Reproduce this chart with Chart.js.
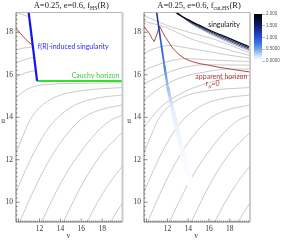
<!DOCTYPE html>
<html>
<head>
<meta charset="utf-8">
<script src="https://cdn.jsdelivr.net/npm/chart.js@4"></script>
<style>
  html, body { margin: 0; padding: 0; background: #fff; }
  #wrap { position: relative; width: 282px; height: 241px; overflow: hidden; }
  canvas { position: absolute; top: 0; }
</style>
</head>
<body>
<div id="wrap">
  <canvas id="left" width="124" height="241" style="left:0"></canvas>
  <canvas id="right" width="130" height="241" style="left:122px"></canvas>
  <canvas id="cbar" width="32" height="241" style="left:250px"></canvas>
</div>
<script>
// ticks
const vTicks = [12, 14, 16, 18];
const uTicks = [10, 12, 14, 16, 18];
const cbTicks = [0, 0.5, 1, 1.5, 2];
const cbLabels = ['0.0000', '0.5000', '1.000', '1.500', '2.000'];

// left panel: f_HS(R)  -- points are [v, u]
const singLeft = [[10.92, 19.1], [11.77, 15.71]];
const cauchyLeft = [[11.77, 15.71], [19.95, 15.71]];
const horizonLeft = [[9.75, 18.19], [10.13, 17.97], [10.52, 17.75], [10.9, 17.57], [11.3, 17.4]];
const upperLeftA = [[9.75, 18.92], [10.4, 18.83], [11.01, 18.72]];
const upperLeftB = [[9.75, 17.17], [10.5, 17.26], [11.37, 17.3]];
const upperLeftC = [[9.75, 16.55], [10.6, 16.72], [11.49, 16.83]];
const upperLeftD = [[9.75, 15.9], [10.7, 16.1], [11.65, 16.2]];
const nearCauchy = [[9.75, 14.91], [10.5, 15.22], [11.5, 15.45], [13, 15.55], [16, 15.6], [19.95, 15.62]];

// r = const lines in the lower region (both panels)
const lowA = [[9.75, 12.32], [10.4, 13.1], [11.1, 13.87], [12, 14.45], [13.5, 14.95], [16, 15.25], [19.95, 15.4]];
const lowB = [[9.75, 10.48], [10.7, 11.55], [11.7, 12.55], [12.8, 13.45], [14, 14.1], [15.5, 14.6], [17.5, 14.9], [19.95, 15.05]];
const lowC = [[10.1, 9.07], [11.2, 10.3], [12.5, 11.6], [14, 12.8], [15.9, 13.87], [17.5, 14.3], [19.95, 14.58]];
const lowD = [[12.2, 9.07], [13.3, 10.2], [14.5, 11.3], [16, 12.4], [17.5, 13.3], [18.8, 13.85], [19.95, 14.1]];
const lowE = [[14.3, 9.07], [15.3, 10.1], [16.5, 11.2], [18, 12.3], [19.95, 13.3]];
const lowF = [[16.55, 9.07], [17.5, 9.95], [18.7, 10.9], [19.95, 11.7]];
const lowG = [[18.8, 9.07], [19.4, 9.55], [19.95, 9.97]];

// right panel: f_cut,HS(R)
const blueRight = [[10.92, 19.1], [11.15, 18.3], [11.39, 17.49], [11.7, 16.46], [12.03, 15.44], [12.51, 14.34], [13.4, 12.46], [14.27, 10.72]];
const blueRightVal = [1.55, 1.25, 0.95, 0.7, 0.38, 0.14, 0.05, 0.012];
const blueRightWidth = [1.4, 1.5, 1.7, 2, 2.6, 3.6, 5.5, 7.5];
const horizonRight = [[9.75, 18.27], [10.23, 17.97], [10.52, 17.71], [10.74, 17.56], [11.0, 17.92], [11.24, 18.29],
  [11.58, 17.97], [11.82, 17.75], [12.06, 17.59], [12.35, 17.36], [12.66, 17.17], [13.12, 16.95], [13.63, 16.77],
  [14.37, 16.62], [15.13, 16.52], [15.88, 16.46], [16.87, 16.36], [18.02, 16.27], [19.95, 16.13]];
const singR1 = [[12.5, 19.1], [12.83, 18.93], [14.17, 18.55], [15.62, 18.2], [17.25, 17.85], [18.79, 17.54], [19.95, 17.3]];
const singR2 = [[12.6, 19.1], [12.9, 18.93], [14.17, 18.51], [15.62, 18.15], [17.25, 17.79], [18.79, 17.47], [19.95, 17.24]];
const singR3 = [[12.7, 19.1], [12.97, 18.93], [14.17, 18.48], [15.62, 18.1], [17.25, 17.73], [18.79, 17.41], [19.95, 17.18]];
const singR4 = [[12.8, 19.1], [13.05, 18.93], [14.17, 18.45], [15.62, 18.05], [17.25, 17.67], [18.79, 17.35], [19.95, 17.12]];
const trapA = [[9.75, 18.77], [10.52, 18.62], [11.29, 18.46], [12.25, 18.27], [14.17, 17.99], [16.58, 17.66], [19.95, 17.02]];
const trapB = [[9.75, 18.53], [10.52, 18.41], [11.38, 18.32], [12.73, 18.04], [14.17, 17.71], [16.58, 17.35], [19.95, 16.9]];
const peakA = [[9.75, 17.02], [10.81, 17.24], [11.58, 17.34], [12.25, 17.38], [13.69, 17.28], [15.62, 17.12], [17.83, 16.93], [19.95, 16.78]];
const peakB = [[9.75, 16.22], [11.29, 16.51], [12.44, 16.67], [13.69, 16.76], [15.62, 16.71], [17.83, 16.66], [19.95, 16.62]];
const peakC = [[9.75, 15.57], [11.29, 15.94], [13.21, 16.3], [15.62, 16.47], [17.83, 16.46], [19.95, 16.45]];
const peakD = [[9.75, 14.81], [11.29, 15.38], [13.21, 15.85], [15.62, 16.13], [18.02, 16.27], [19.95, 16.27]];
const peakE = [[9.75, 13.54], [11.29, 14.44], [13.21, 15.09], [15.62, 15.57], [18.02, 15.85], [19.95, 15.97]];

const V_MIN = 9.75, V_MAX = 19.95, U_MIN = 9.07, U_MAX = 18.93;
const GRAY = '#c4c4c4';
const RED = '#b04848';

// colour map of the colour bar (white -> blue -> black)
const cmapStops = [
  [0, [255, 255, 255]], [0.2, [216, 230, 250]], [0.45, [127, 176, 238]], [0.75, [58, 120, 224]],
  [1.05, [31, 79, 208]], [1.4, [21, 37, 138]], [1.7, [11, 16, 64]], [2, [0, 0, 0]]
];
function cmap(t) {
  t = Math.max(0, Math.min(2, t));
  for (let i = 1; i < cmapStops.length; i++) {
    const [t1, c1] = cmapStops[i];
    if (t <= t1) {
      const [t0, c0] = cmapStops[i - 1];
      const f = (t - t0) / (t1 - t0);
      return 'rgb(' + c0.map((c, k) => Math.round(c + (c1[k] - c) * f)).join(',') + ')';
    }
  }
  return '#000';
}

function line(pts, color, width, extra) {
  return Object.assign({
    data: pts.map(([v, u]) => ({ x: v, y: u })),
    borderColor: color, borderWidth: width,
    showLine: true, pointRadius: 0, fill: false,
    cubicInterpolationMode: 'monotone'
  }, extra || {});
}

// text with optional subscripts: parts are strings or {sub: '...'}
function drawRich(ctx, parts, x, y, o) {
  const big = o.size + 'px ' + o.family;
  const small = (o.size * 0.68) + 'px ' + o.family;
  let w = 0;
  parts.forEach(p => {
    ctx.font = typeof p === 'string' ? big : small;
    w += ctx.measureText(typeof p === 'string' ? p : p.sub).width;
  });
  let cx = o.align === 'center' ? x - w / 2 : o.align === 'right' ? x - w : x;
  ctx.fillStyle = o.color;
  ctx.textAlign = 'left';
  ctx.textBaseline = 'middle';
  parts.forEach(p => {
    const plain = typeof p === 'string';
    const t = plain ? p : p.sub;
    ctx.font = plain ? big : small;
    ctx.fillText(t, cx, plain ? y : y + o.size * 0.32);
    cx += ctx.measureText(t).width;
  });
}

function makeFrame(cfg) {
  return {
    id: 'frame',
    afterDatasetsDraw(chart) {
      const { ctx, chartArea: a, scales: { x, y } } = chart;
      ctx.save();
      cfg.labels.forEach(l => drawRich(ctx, l.parts, x.getPixelForValue(l.at[0]), y.getPixelForValue(l.at[1]), l));

      // frame
      ctx.lineWidth = 0.8;
      ctx.strokeStyle = '#a8a8a8';
      ctx.beginPath(); ctx.moveTo(a.left, a.top); ctx.lineTo(a.right, a.top); ctx.stroke();
      ctx.strokeStyle = '#555';
      ctx.beginPath(); ctx.moveTo(a.left, a.top); ctx.lineTo(a.left, a.bottom); ctx.lineTo(a.right, a.bottom); ctx.stroke();
      ctx.strokeStyle = '#cacaca'; ctx.lineWidth = 2;
      ctx.beginPath(); ctx.moveTo(a.right, a.top); ctx.lineTo(a.right, a.bottom); ctx.stroke();

      // inward ticks, minor every 0.2
      ctx.strokeStyle = '#555'; ctx.lineWidth = 0.7;
      ctx.beginPath();
      for (let k = Math.ceil(x.min * 5); k <= Math.floor(x.max * 5); k++) {
        const px = x.getPixelForValue(k / 5), len = k % 10 === 0 ? 3.5 : 1.5;
        ctx.moveTo(px, a.bottom); ctx.lineTo(px, a.bottom - len);
      }
      for (let k = Math.ceil(y.min * 5); k <= Math.floor(y.max * 5); k++) {
        const py = y.getPixelForValue(k / 5), len = k % 10 === 0 ? 3.5 : 1.5;
        ctx.moveTo(a.left, py); ctx.lineTo(a.left + len, py);
      }
      ctx.stroke();

      const serif = { size: 8.5, family: '"Liberation Serif", serif', color: '#222', align: 'center' };
      drawRich(ctx, cfg.title, (a.left + a.right) / 2 + 2, 5.5, serif);
      const axis = { size: 7.5, family: '"Liberation Serif", serif', color: '#333', align: 'center' };
      drawRich(ctx, ['v'], (a.left + a.right) / 2 - 1, 236.5, axis);
      drawRich(ctx, ['u'], a.left + cfg.uDx, 121, axis);
      ctx.restore();
    }
  };
}

function axes(yWidth) {
  const tickFont = { family: '"Liberation Serif", serif', size: 7.5 };
  return {
    x: {
      type: 'linear', min: V_MIN, max: V_MAX,
      afterFit: s => { s.height = 19; },
      afterBuildTicks: s => { s.ticks = vTicks.map(v => ({ value: v })); },
      grid: { display: false, drawTicks: false }, border: { display: false },
      ticks: { font: tickFont, color: '#333', padding: 3, maxRotation: 0, autoSkip: false }
    },
    y: {
      type: 'linear', min: U_MIN, max: U_MAX,
      afterFit: s => { s.width = yWidth; },
      afterBuildTicks: s => { s.ticks = uTicks.map(u => ({ value: u })); },
      grid: { display: false, drawTicks: false }, border: { display: false },
      ticks: { font: tickFont, color: '#333', padding: 3, autoSkip: false }
    }
  };
}

const baseOpts = {
  responsive: false, animation: false, devicePixelRatio: 1,
  plugins: { legend: { display: false }, tooltip: { enabled: false } }
};

const lowerLines = [lowA, lowB, lowC, lowD, lowE, lowF, lowG];
const labelFont = 'Lato, "Liberation Sans", sans-serif';

// ---- left chart ----
new Chart(document.getElementById('left'), {
  type: 'scatter',
  data: {
    datasets: [
      line(singLeft, '#1414f0', 2.2, { cubicInterpolationMode: 'default', tension: 0 }),
      line(cauchyLeft, '#2fe02f', 2),
      line(horizonLeft, RED, 1),
      ...[upperLeftA, upperLeftB, upperLeftC, upperLeftD, nearCauchy].map(d => line(d, GRAY, 0.9)),
      ...lowerLines.map(d => line(d, GRAY, 0.9))
    ]
  },
  options: Object.assign({}, baseOpts, {
    layout: { padding: { left: 0, right: 1.5, top: 12.5, bottom: 0 } },
    scales: axes(16)
  }),
  plugins: [makeFrame({
    title: ['A=0.25, e=0.6, f', { sub: 'HS' }, '(R)'],
    uDx: -13,
    labels: [
      { parts: ['f(R)-induced singularity'], at: [11.84, 17.32], size: 7, family: labelFont, color: '#2a2af5', align: 'left' },
      { parts: ['Cauchy horizon'], at: [19.65, 15.94], size: 7, family: labelFont, color: '#33cc33', align: 'right' }
    ]
  })]
});

// ---- right chart ----
const rightCtx = document.getElementById('right').getContext('2d');
new Chart(rightCtx, {
  type: 'scatter',
  data: {
    datasets: [
      line(blueRight, '#2060e0', 1.5, {
        cubicInterpolationMode: 'default', tension: 0, borderCapStyle: 'butt',
        segment: {
          borderColor: s => {
            const g = rightCtx.createLinearGradient(s.p0.x, s.p0.y, s.p1.x, s.p1.y);
            g.addColorStop(0, cmap(blueRightVal[s.p0DataIndex]));
            g.addColorStop(1, cmap(blueRightVal[s.p1DataIndex]));
            return g;
          },
          borderWidth: s => (blueRightWidth[s.p0DataIndex] + blueRightWidth[s.p1DataIndex]) / 2
        }
      }),
      line(singR1, '#05051a', 1.3),
      line(singR2, '#1b2555', 1),
      line(singR3, '#3c4a80', 0.9),
      line(singR4, '#8a94b8', 0.8),
      line(horizonRight, RED, 1, { cubicInterpolationMode: 'default', tension: 0 }),
      ...[trapA, trapB, peakA, peakB, peakC, peakD, peakE].map(d => line(d, GRAY, 0.9)),
      ...lowerLines.map(d => line(d, GRAY, 0.9))
    ]
  },
  options: Object.assign({}, baseOpts, {
    layout: { padding: { left: 0, right: 2, top: 12.5, bottom: 0 } },
    scales: axes(22)
  }),
  plugins: [makeFrame({
    title: ['A=0.25, e=0.6, f', { sub: 'cut,HS' }, '(R)'],
    uDx: -15,
    labels: [
      { parts: ['singularity'], at: [17.45, 18.34], size: 7, family: labelFont, color: '#111', align: 'center' },
      { parts: ['apparent horizon'], at: [17.2, 15.89], size: 7, family: labelFont, color: '#b03a3e', align: 'center' },
      { parts: ['r', { sub: ',v' }, '=0'], at: [16.35, 15.57], size: 7, family: labelFont, color: '#b03a3e', align: 'center' }
    ]
  })]
});

// ---- colour bar ----
new Chart(document.getElementById('cbar'), {
  type: 'bar',
  data: {
    labels: [''],
    datasets: [{
      data: [cbTicks[cbTicks.length - 1]],
      borderWidth: 0, barPercentage: 1, categoryPercentage: 1,
      backgroundColor: c => {
        const a = c.chart.chartArea;
        if (!a) return '#000';
        const g = c.chart.ctx.createLinearGradient(0, a.bottom, 0, a.top);
        cmapStops.forEach(([t]) => g.addColorStop(t / 2, cmap(t)));
        return g;
      }
    }]
  },
  options: Object.assign({}, baseOpts, {
    layout: { padding: { left: 4, right: 0, top: 14, bottom: 180 } },
    scales: {
      x: { display: false },
      y: {
        position: 'right', min: 0, max: 2,
        afterFit: s => { s.width = 20; },
        afterBuildTicks: s => { s.ticks = cbTicks.map(v => ({ value: v })); },
        grid: { drawOnChartArea: false, drawTicks: true, tickLength: 3, color: '#888', lineWidth: 0.6 },
        border: { display: false },
        ticks: { callback: (v, i) => cbLabels[i], font: { family: '"Liberation Sans", sans-serif', size: 4.5 }, color: '#555', padding: 1 }
      }
    }
  })
});
</script>
</body>
</html>
